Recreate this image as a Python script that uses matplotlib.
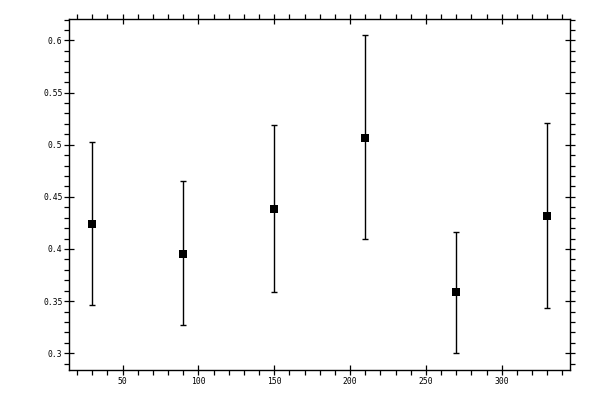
import matplotlib
matplotlib.use("Agg")
import matplotlib.pyplot as plt
from matplotlib.ticker import MultipleLocator, FuncFormatter

x = [30, 90, 150, 210, 270, 330]
y = [0.4237, 0.3952, 0.4385, 0.5067, 0.3587, 0.4317]
y_top = [0.5025, 0.4654, 0.5192, 0.6048, 0.4163, 0.5212]
y_bot = [0.3462, 0.3269, 0.3587, 0.4096, 0.3000, 0.3433]

err_lo = [a - b for a, b in zip(y, y_bot)]
err_hi = [b - a for a, b in zip(y, y_top)]

fig = plt.figure(figsize=(6, 4), dpi=100)
ax = fig.add_axes([0.1158, 0.074, 0.95 - 0.1158, 0.9525 - 0.074])

ax.errorbar(x, y, yerr=[err_lo, err_hi], fmt='none',
            ecolor='black', elinewidth=1.0, capsize=2.1, capthick=1.0)
ax.plot(x, y, 's', color='black', markersize=5.8, markeredgewidth=0,
        zorder=3)

ax.set_xlim(15, 345)
ax.set_ylim(0.2836, 0.6205)

ax.xaxis.set_major_locator(MultipleLocator(50))
ax.xaxis.set_minor_locator(MultipleLocator(10))
ax.yaxis.set_major_locator(MultipleLocator(0.05))
ax.yaxis.set_minor_locator(MultipleLocator(0.01))
ax.yaxis.set_major_formatter(FuncFormatter(lambda v, p: ('%.2f' % v).rstrip('0')))
ax.xaxis.set_major_formatter(FuncFormatter(lambda v, p: '%d' % round(v)))

for s in ax.spines.values():
    s.set_linewidth(1.0)

ax.tick_params(which='major', direction='inout', length=7, width=0.9,
               top=True, right=True, labelsize=5.8, pad=1.5)
ax.tick_params(which='minor', direction='out', length=3.5, width=0.9,
               top=True, right=True)
for lab in ax.get_xticklabels() + ax.get_yticklabels():
    lab.set_family('DejaVu Sans Mono')

fig.savefig('out.png', dpi=100)
